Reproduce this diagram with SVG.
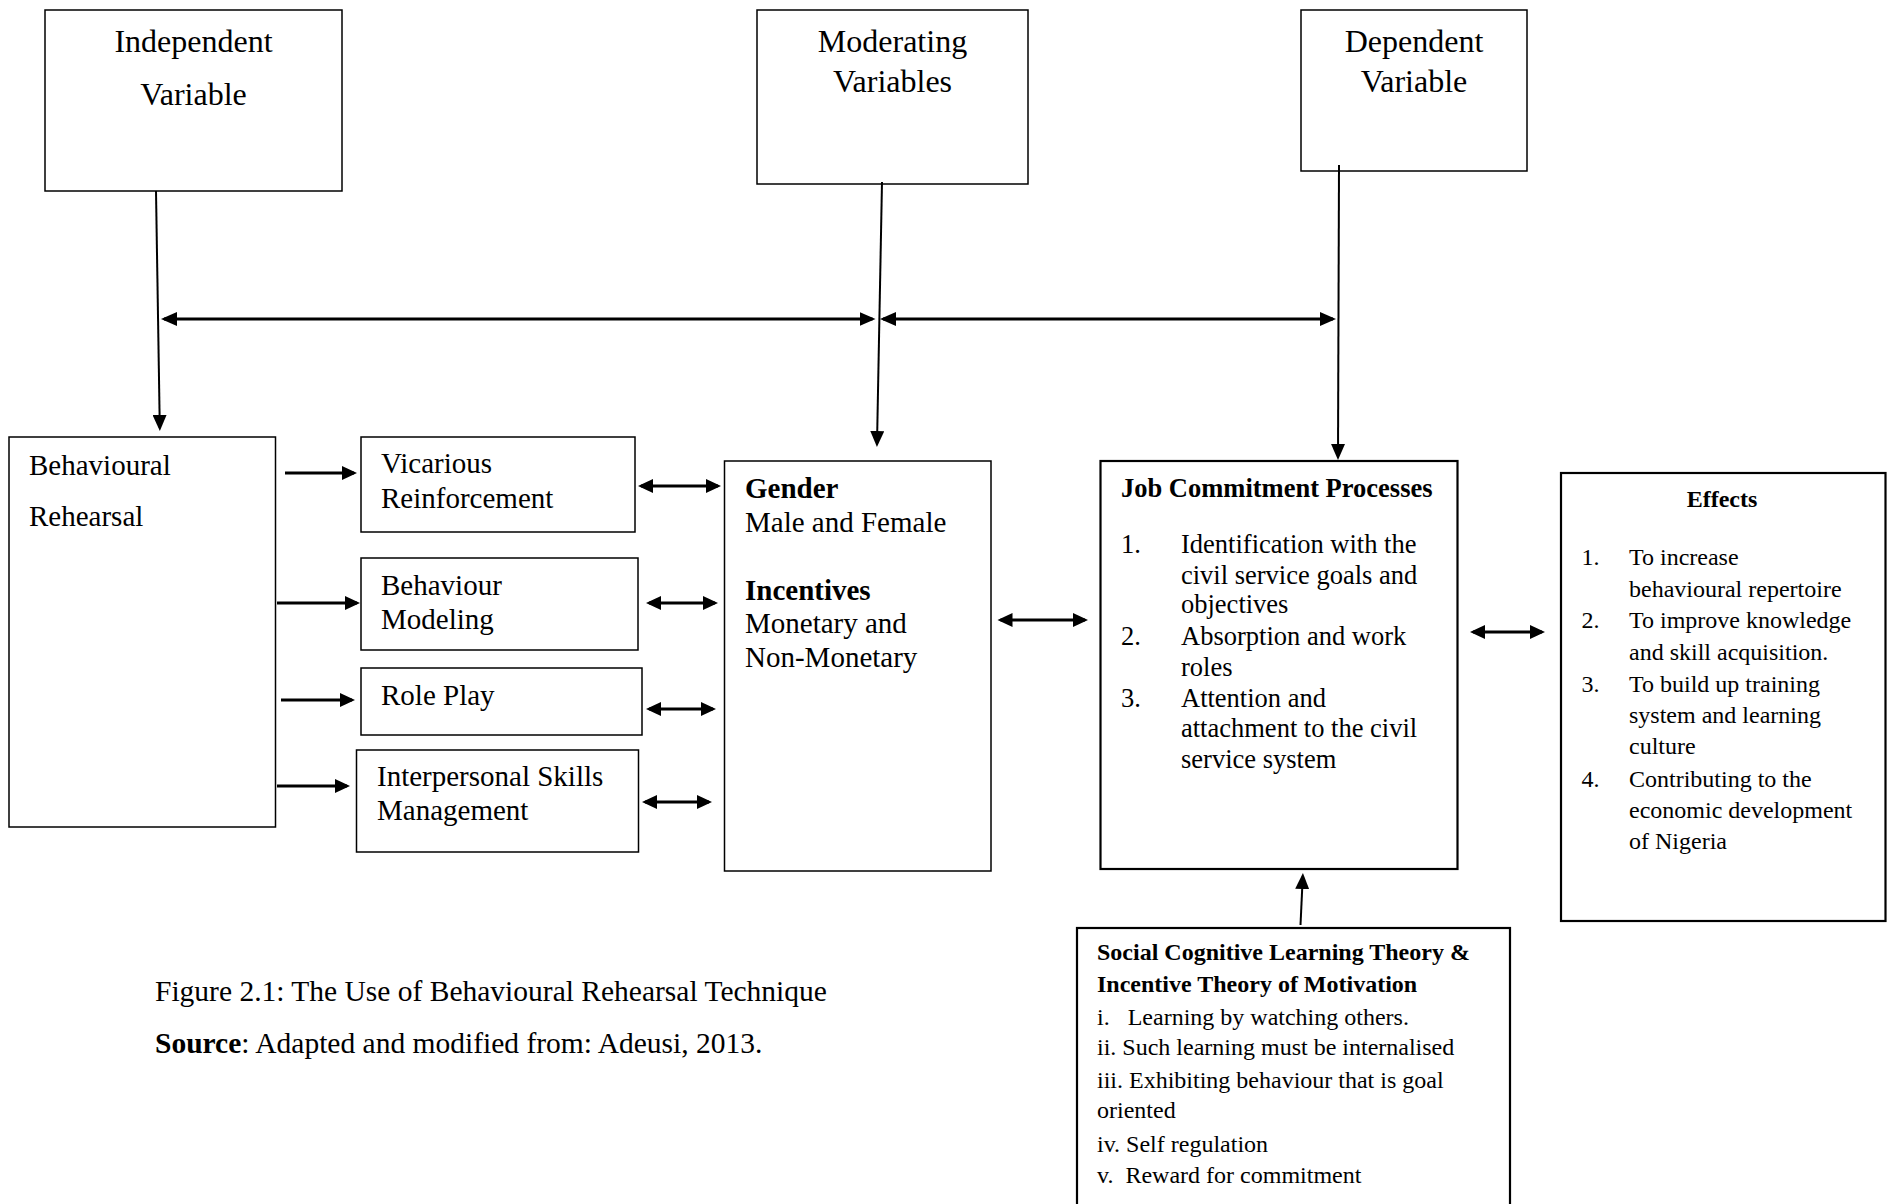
<svg xmlns="http://www.w3.org/2000/svg" width="1893" height="1204" viewBox="0 0 1893 1204">
<style>
.box{fill:#fff;stroke:#000;stroke-width:1.5}
.bx2{fill:#fff;stroke:#000;stroke-width:2.2}
.t{font-family:"Liberation Serif","Times New Roman",serif;fill:#000}
.s32{font-size:32px}
.s29{font-size:29px}
.s26{font-size:26.5px}
.s24{font-size:24px}
.b{font-weight:bold}
.mid{text-anchor:middle}
.c2{stroke:#000;stroke-width:2;fill:none}
.c3{stroke:#000;stroke-width:3;fill:none}
</style>
<defs>
<marker id="ah" markerUnits="userSpaceOnUse" markerWidth="17" markerHeight="14" refX="13" refY="7" orient="auto-start-reverse">
<path d="M0,0 L16,7 L0,14 z" fill="#000"/>
</marker>
<marker id="ahs" markerUnits="userSpaceOnUse" markerWidth="16" markerHeight="15" refX="12" refY="7.5" orient="auto-start-reverse">
<path d="M0,0.5 L15,7.5 L0,14.5 z" fill="#000"/>
</marker>
</defs>
<rect width="1893" height="1204" fill="#fff"/>

<g id="independent">
<rect class="box" x="45" y="10" width="297" height="181"/>
<text class="t s32 mid" x="193.5" y="52">Independent</text>
<text class="t s32 mid" x="193.5" y="105">Variable</text>
</g>
<g id="moderating">
<rect class="box" x="757" y="10" width="271" height="174"/>
<text class="t s32 mid" x="892.5" y="52">Moderating</text>
<text class="t s32 mid" x="892.5" y="92">Variables</text>
</g>
<g id="dependent">
<rect class="box" x="1301" y="10" width="226" height="161"/>
<text class="t s32 mid" x="1414" y="52">Dependent</text>
<text class="t s32 mid" x="1414" y="92">Variable</text>
</g>

<g id="behavioural-rehearsal">
<rect class="box" x="9" y="437" width="266.5" height="390"/>
<text class="t s29" x="29" y="475">Behavioural</text>
<text class="t s29" x="29" y="526">Rehearsal</text>
</g>
<g id="vicarious">
<rect class="box" x="361" y="437" width="274" height="95"/>
<text class="t s29" x="381" y="473">Vicarious</text>
<text class="t s29" x="381" y="508">Reinforcement</text>
</g>
<g id="behaviour-modeling">
<rect class="box" x="361" y="558" width="277" height="92"/>
<text class="t s29" x="381" y="595">Behaviour</text>
<text class="t s29" x="381" y="629">Modeling</text>
</g>
<g id="role-play">
<rect class="box" x="361" y="668" width="281" height="67"/>
<text class="t s29" x="381" y="705">Role Play</text>
</g>
<g id="interpersonal">
<rect class="box" x="356.5" y="750" width="282" height="102"/>
<text class="t s29" x="377" y="786">Interpersonal Skills</text>
<text class="t s29" x="377" y="820">Management</text>
</g>
<g id="gender-incentives">
<rect class="box" x="724.5" y="461" width="266.5" height="410"/>
<text class="t s29 b" x="745" y="498">Gender</text>
<text class="t s29" x="745" y="532">Male and Female</text>
<text class="t s29 b" x="745" y="600">Incentives</text>
<text class="t s29" x="745" y="633">Monetary and</text>
<text class="t s29" x="745" y="667">Non-Monetary</text>
</g>
<g id="job-commitment">
<rect class="bx2" x="1100.5" y="461" width="357" height="408"/>
<text class="t s26 b" x="1121" y="497">Job Commitment Processes</text>
<text class="t s26" x="1121" y="553">1.</text>
<text class="t s26" x="1181" y="553">Identification with the</text>
<text class="t s26" x="1181" y="584">civil service goals and</text>
<text class="t s26" x="1181" y="613">objectives</text>
<text class="t s26" x="1121" y="645">2.</text>
<text class="t s26" x="1181" y="645">Absorption and work</text>
<text class="t s26" x="1181" y="676">roles</text>
<text class="t s26" x="1121" y="707">3.</text>
<text class="t s26" x="1181" y="707">Attention and</text>
<text class="t s26" x="1181" y="737">attachment to the civil</text>
<text class="t s26" x="1181" y="768">service system</text>
</g>
<g id="effects">
<rect class="bx2" x="1561" y="473" width="324.5" height="448"/>
<text class="t s24 b mid" x="1722" y="507">Effects</text>
<text class="t s24" x="1581.5" y="565">1.</text>
<text class="t s24" x="1629" y="565">To increase</text>
<text class="t s24" x="1629" y="597">behavioural repertoire</text>
<text class="t s24" x="1581.5" y="628">2.</text>
<text class="t s24" x="1629" y="628">To improve knowledge</text>
<text class="t s24" x="1629" y="660">and skill acquisition.</text>
<text class="t s24" x="1581.5" y="692">3.</text>
<text class="t s24" x="1629" y="692">To build up training</text>
<text class="t s24" x="1629" y="723">system and learning</text>
<text class="t s24" x="1629" y="754">culture</text>
<text class="t s24" x="1581.5" y="787">4.</text>
<text class="t s24" x="1629" y="787">Contributing to the</text>
<text class="t s24" x="1629" y="818">economic development</text>
<text class="t s24" x="1629" y="849">of Nigeria</text>
</g>
<g id="theory">
<rect class="bx2" x="1077" y="928" width="433" height="300"/>
<text class="t s24 b" x="1097" y="960">Social Cognitive Learning Theory &amp;</text>
<text class="t s24 b" x="1097" y="992">Incentive Theory of Motivation</text>
<text class="t s24" x="1097" y="1025" xml:space="preserve">i.   Learning by watching others.</text>
<text class="t s24" x="1097" y="1055">ii. Such learning must be internalised</text>
<text class="t s24" x="1097" y="1088">iii. Exhibiting behaviour that is goal</text>
<text class="t s24" x="1097" y="1118">oriented</text>
<text class="t s24" x="1097" y="1152">iv. Self regulation</text>
<text class="t s24" x="1097" y="1183" xml:space="preserve">v.  Reward for commitment</text>
</g>
<g id="caption">
<text class="t" font-size="29.5" x="155" y="1001">Figure 2.1: The Use of Behavioural Rehearsal Technique</text>
<text class="t" font-size="29.5" x="155" y="1053"><tspan class="b">Source</tspan>: Adapted and modified from: Adeusi, 2013.</text>
</g>

<g id="connectors">
<line class="c2" x1="156" y1="191" x2="159.8" y2="428" marker-end="url(#ah)"/>
<line class="c2" x1="882" y1="182" x2="877" y2="444" marker-end="url(#ah)"/>
<line class="c2" x1="1339" y1="165" x2="1338" y2="457" marker-end="url(#ah)"/>
<line class="c3" x1="164" y1="319" x2="872.5" y2="319" marker-start="url(#ah)" marker-end="url(#ah)"/>
<line class="c3" x1="883" y1="319" x2="1333" y2="319" marker-start="url(#ah)" marker-end="url(#ah)"/>
<line class="c3" x1="285" y1="473" x2="354" y2="473" marker-end="url(#ahs)"/>
<line class="c3" x1="277" y1="603" x2="357" y2="603" marker-end="url(#ahs)"/>
<line class="c3" x1="281" y1="700" x2="352" y2="700" marker-end="url(#ahs)"/>
<line class="c3" x1="277" y1="786" x2="347" y2="786" marker-end="url(#ahs)"/>
<line class="c3" x1="641" y1="486" x2="718" y2="486" marker-start="url(#ahs)" marker-end="url(#ahs)"/>
<line class="c3" x1="649" y1="603" x2="715" y2="603" marker-start="url(#ahs)" marker-end="url(#ahs)"/>
<line class="c3" x1="649" y1="709" x2="713" y2="709" marker-start="url(#ahs)" marker-end="url(#ahs)"/>
<line class="c3" x1="645" y1="802" x2="709" y2="802" marker-start="url(#ahs)" marker-end="url(#ahs)"/>
<line class="c3" x1="1000.5" y1="620" x2="1085" y2="620" marker-start="url(#ahs)" marker-end="url(#ahs)"/>
<line class="c3" x1="1473" y1="632" x2="1542" y2="632" marker-start="url(#ahs)" marker-end="url(#ahs)"/>
<line class="c2" x1="1300.5" y1="925" x2="1302.8" y2="876" marker-end="url(#ah)"/>
</g>
</svg>
